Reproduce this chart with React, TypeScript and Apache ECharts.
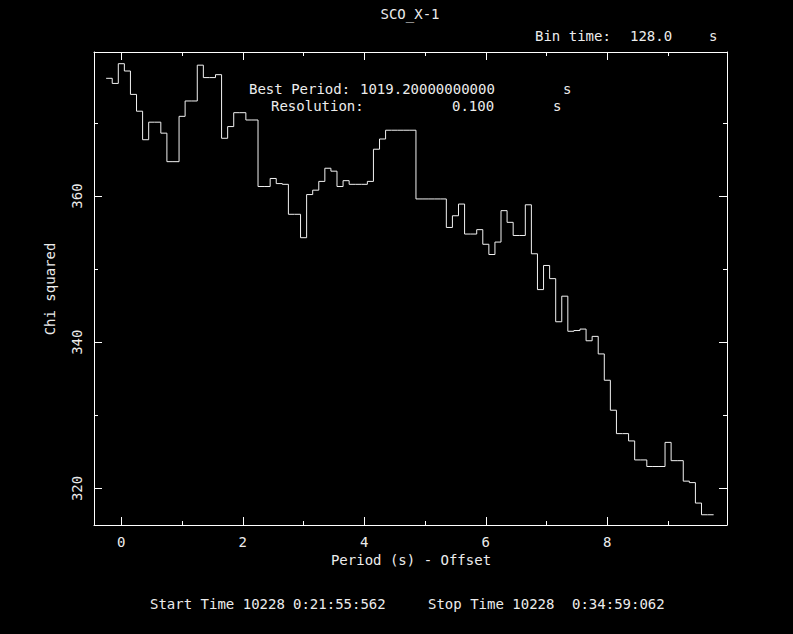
import React, { useEffect, useRef } from "react";
import * as echarts from "echarts";

// Period search grid: first bin's left edge and step (s), relative to the offset
const periodStart = -0.25;
const resolution = 0.1;

// Chi-squared value of each trial period bin
const chiSquared = [
  376.1, 375.4, 378.1, 377.1, 373.9, 371.6, 367.7, 370.1, 370.1, 368.6,
  364.7, 364.7, 370.9, 373.0, 373.0, 377.9, 376.2, 376.2, 376.6, 367.9,
  369.5, 371.4, 371.4, 370.4, 370.4, 361.3, 361.3, 362.4, 361.7, 361.6,
  357.5, 357.5, 354.3, 360.2, 360.8, 362.0, 363.8, 363.4, 361.3, 362.1,
  361.6, 361.6, 361.6, 362.0, 366.4, 367.8, 369.0, 369.0, 369.0, 369.0,
  369.0, 359.6, 359.6, 359.6, 359.6, 359.6, 355.7, 357.3, 358.9, 354.8,
  354.8, 355.4, 353.4, 352.0, 353.7, 358.0, 356.4, 354.6, 354.6, 358.8,
  352.1, 347.2, 350.5, 348.7, 342.8, 346.3, 341.5, 341.6, 341.8, 340.2,
  340.8, 338.4, 334.8, 330.7, 327.5, 327.5, 326.5, 323.9, 323.9, 323.0,
  323.0, 323.0, 326.3, 323.8, 323.8, 321.0, 320.8, 318.0, 316.4, 316.4,
];

// Axis extents
const xRange = [-0.45, 9.97];
const yRange = [315.0, 379.7];

// Header / footer texts
const titleText = "SCO_X-1";
const binTimeLabel = "Bin time:";
const binTimeValue = "128.0";
const bestPeriodLabel = "Best Period:";
const bestPeriodValue = "1019.20000000000";
const resolutionLabel = "Resolution:";
const resolutionValue = "0.100";
const unitText = "s";
const xName = "Period (s) - Offset";
const yName = "Chi squared";
const startTimeLabel = "Start Time 10228";
const startTimeValue = "0:21:55:562";
const stopTimeLabel = "Stop Time 10228";
const stopTimeValue = "0:34:59:062";

const FG = "#ececec";
const FONT = "DejaVu Sans Mono";

function txt(text: string, x: number, y: number, align = "left", rotation = 0) {
  return {
    type: "text",
    x,
    y,
    rotation,
    silent: true,
    style: {
      text,
      fill: FG,
      font: `14px "${FONT}"`,
      align,
      textAlign: align,
      verticalAlign: "middle",
      textVerticalAlign: "middle",
    },
  };
}

export default function App() {
  const ref = useRef<HTMLDivElement>(null);

  useEffect(() => {
    document.body.style.margin = "0";
    document.body.style.background = "#000";
    if (!ref.current) return;
    const chart = echarts.init(ref.current, null, { renderer: "svg" });

    const steps: [number, number][] = chiSquared.map((v, i) => [
      +(periodStart + i * resolution).toFixed(3),
      v,
    ]);
    steps.push([
      +(periodStart + chiSquared.length * resolution).toFixed(3),
      chiSquared[chiSquared.length - 1],
    ]);

    const tickCommon = {
      axisLine: { show: true, onZero: false, lineStyle: { color: "#fff", width: 1 } },
      axisTick: { show: true, inside: true, length: 8, lineStyle: { color: "#fff" } },
      minorTick: { show: true, splitNumber: 2, length: 4, lineStyle: { color: "#fff" } },
      splitLine: { show: false },
      minorSplitLine: { show: false },
    };

    const xBase = {
      type: "value",
      min: xRange[0],
      max: xRange[1],
      minInterval: 2,
      maxInterval: 2,
      ...tickCommon,
    };
    const yBase = {
      type: "value",
      min: yRange[0],
      max: yRange[1],
      minInterval: 20,
      maxInterval: 20,
      ...tickCommon,
    };

    chart.setOption({
      animation: false,
      backgroundColor: "#000",
      grid: { left: 94, right: 66, top: 52, bottom: 109, containLabel: false },
      xAxis: [
        {
          ...xBase,
          position: "bottom",
          axisLabel: {
            show: true,
            color: FG,
            fontFamily: FONT,
            fontSize: 14,
            margin: 10,
            showMinLabel: false,
            showMaxLabel: false,
          },
        },
        { ...xBase, position: "top", axisLabel: { show: false } },
      ],
      yAxis: [
        {
          ...yBase,
          position: "left",
          axisLabel: {
            show: true,
            rotate: 90,
            color: FG,
            fontFamily: FONT,
            fontSize: 14,
            margin: 10,
            showMinLabel: false,
            showMaxLabel: false,
          },
        },
        { ...yBase, position: "right", axisLabel: { show: false } },
      ],
      series: [
        {
          type: "line",
          step: "end",
          data: steps,
          symbol: "none",
          lineStyle: { color: "#f2f2f2", width: 1 },
          xAxisIndex: 0,
          yAxisIndex: 0,
        },
      ],
      graphic: [
        txt(titleText, 410, 14, "center"),
        txt(binTimeLabel, 535, 36),
        txt(binTimeValue, 630, 36),
        txt(unitText, 709, 36),
        txt(bestPeriodLabel, 249, 89),
        txt(bestPeriodValue, 360, 89),
        txt(unitText, 563, 89),
        txt(resolutionLabel, 271, 106),
        txt(resolutionValue, 452, 106),
        txt(unitText, 553, 106),
        txt(xName, 411, 560, "center"),
        txt(yName, 50, 289, "center", Math.PI / 2),
        txt(startTimeLabel, 150, 604),
        txt(startTimeValue, 293, 604),
        txt(stopTimeLabel, 428, 604),
        txt(stopTimeValue, 572, 604),
      ],
    });

    return () => chart.dispose();
  }, []);

  return (
    <div
      ref={ref}
      style={{ position: "absolute", left: 0, top: 0, width: 793, height: 634, background: "#000" }}
    />
  );
}
